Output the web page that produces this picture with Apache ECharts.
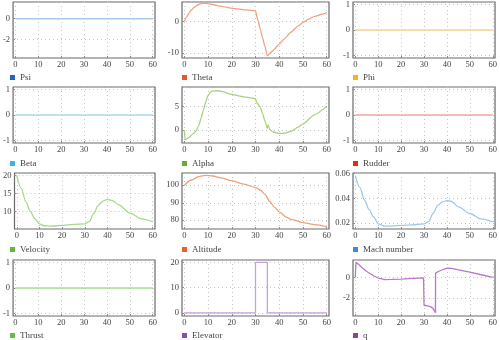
<!DOCTYPE html>
<html><head><meta charset="utf-8">
<script src="https://cdn.jsdelivr.net/npm/echarts@6/dist/echarts.min.js"></script>
<style>html,body{margin:0;padding:0;background:#fff}#c{width:500px;height:340px}</style>
</head><body><div id="c"></div>
<script>
// ---- data ----
const xTicks = [0,10,20,30,40,50,60];

const psiT = [0,60], psiV = [0,0];
const thetaT = [0,1,2,3,4,5,6,7,8,9,10,12,15,20,25,30,31,32,33,34,35,36,37,38,40,42,45,48,50,52,55,58,60];
const thetaV = [0,1.5,2.7,3.7,4.4,5.0,5.4,5.7,5.8,5.8,5.7,5.4,4.9,4.2,3.8,3.4,0.5,-2.4,-5.2,-8.0,-10.9,-10.2,-9.5,-8.7,-7.2,-5.6,-3.4,-1.4,-0.3,0.6,1.6,2.3,2.8];
const phiT = [0,60], phiV = [0,0];
const betaT = [0,60], betaV = [0,0];
const alphaT = [0,0.3,1,2,3,4,5,6,7,8,9,10,11,12,14,16,20,25,30,30.5,31.5,32,33,34,35,35.3,35.6,36,37,38,40,42,45,48,50,55,60];
const alphaV = [0,-2.1,-1.9,-1.6,-1.1,-0.7,-0.2,0.9,2.4,4.2,6.0,7.4,8.1,8.35,8.4,8.2,7.6,7.1,6.7,5.8,5.3,4.8,3.5,1.9,0.4,1.0,0.7,0.1,-0.3,-0.5,-0.75,-0.7,-0.3,0.6,1.3,3.3,5.1];
const rudderT = [0,60], rudderV = [0,0];
const velocityT = [0,2,4,6,8,10,12,15,20,25,30,32,34,36,38,40,42,45,50,55,60];
const velocityV = [20,16.4,12.7,10,8,6.6,6.1,6.0,6.2,6.5,6.6,7.3,9.5,11.8,12.9,13.4,13.1,11.9,9.6,8.0,7.2];
const altitudeT = [0,3,6,9,12,15,20,25,30,32,34,36,38,40,43,45,50,55,60];
const altitudeV = [100,103,104.9,105.7,105.3,104.4,102.6,100.7,98.7,97.3,94.8,90.8,87.5,84.8,81.8,80.5,78.7,77.5,76.2];
const machT = [0,2,4,6,8,10,13,20,25,30,32,34,36,38,40,42,45,50,55,60];
const machV = [0.0585,0.0488,0.0387,0.031,0.0252,0.0195,0.0176,0.0182,0.0187,0.0195,0.0213,0.028,0.0343,0.0372,0.0382,0.0376,0.0332,0.0278,0.0234,0.0209];
const thrustT = [0,60], thrustV = [0,0];
const elevatorT = [0,30,30,35,35,60], elevatorV = [0,0,20,20,0,0];
const qT = [0,0.3,1,2,3,5,8,10,13,16,20,25,29.8,30,30.5,32,33,34,35,35.05,36,37,40,42,45,50,55,60];
const qV = [0,1.48,1.35,1.16,0.95,0.58,0.16,-0.06,-0.22,-0.2,-0.16,-0.1,-0.05,-2.72,-2.75,-2.8,-2.88,-3.05,-3.45,0.42,0.55,0.65,0.9,0.88,0.74,0.52,0.26,0.0];

const names = ['Psi','Theta','Phi','Beta','Alpha','Rudder','Velocity','Altitude','Mach number','Thrust','Elevator','q'];
const yTicks = [[-2,0],[-10,0],[-1,0,1],[-1,0,1],[0,5],[-1,0,1],[10,15,20],[80,90,100],[0.02,0.04,0.06],[-1,0,1],[0,10,20],[-2,0]];
const yRanges = [[-3.75,1.6],[-11.6,6.2],[-1.1,1.1],[-1.1,1.1],[-2.8,9.2],[-1.1,1.1],[5.2,20.7],[75,107],[0.0153,0.0605],[-1.1,1.1],[-1.2,20.9],[-3.77,1.7]];
const seriesT = [psiT,thetaT,phiT,betaT,alphaT,rudderT,velocityT,altitudeT,machT,thrustT,elevatorT,qT];
const seriesV = [psiV,thetaV,phiV,betaV,alphaV,rudderV,velocityV,altitudeV,machV,thrustV,elevatorV,qV];

// ---- styles ----
const keyColors = ['#2266bb','#e4572e','#f5b324','#3cb4e6','#6aaa3a','#e8281e','#6ab43a','#e8602a','#3a8ed8','#60c040','#8a4ab8','#9a3aa8'];
const lineColors = ['#a5c8ec','#f2a283','#f5d590','#a8dcf2','#a8d080','#f5a8a0','#a8d88a','#f0a07a','#a0c8ee','#a8e08a','#c4a0dc','#b878c8'];
const smoothness = [0,0.2,0,0,0.2,0,0.3,0.3,0.3,0,0,0];
const colLeft = [10,182,353], colWidth = [145,147,144];
const rowTop = [2,87,173,260], rowHeight = 56;
const legendTop = [73,159,245,331];
const FONT = 'Liberation Serif';

const grid = [], xAxis = [], yAxis = [], series = [], legend = [];
for (let i = 0; i < 12; i++) {
  const r = Math.floor(i / 3), c = i % 3;
  grid.push({left: colLeft[c], top: rowTop[r], width: colWidth[c], height: rowHeight,
    show: true, borderColor: '#6a6a6a', borderWidth: 1.2, containLabel: false});
  const gridLine = {show: true, lineStyle: {color: '#c4c4c4', type: [1,3], width: 1}};
  xAxis.push({type: 'value', gridIndex: i, min: -1, max: 61,
    axisLine: {show: false, onZero: false},
    axisTick: {show: true, inside: true, length: 2, customValues: xTicks, lineStyle: {color: '#8a8a8a'}},
    axisLabel: {customValues: xTicks, fontFamily: FONT, fontSize: 8.5, color: '#444', margin: 2},
    splitLine: gridLine});
  yAxis.push({type: 'value', gridIndex: i, min: yRanges[i][0], max: yRanges[i][1],
    axisLine: {show: false, onZero: false},
    axisTick: {show: true, inside: true, length: 2, customValues: yTicks[i], lineStyle: {color: '#8a8a8a'}},
    axisLabel: {customValues: yTicks[i], fontFamily: FONT, fontSize: 8.5, color: '#444', margin: 3},
    splitLine: gridLine});
  const data = seriesT[i].map((t, k) => [t, seriesV[i][k]]);
  series.push({type: 'line', name: names[i], xAxisIndex: i, yAxisIndex: i, data,
    showSymbol: false, smooth: smoothness[i], smoothMonotone: 'x',
    itemStyle: {color: keyColors[i]},
    lineStyle: {color: lineColors[i], width: 1.3}});
  legend.push({left: colLeft[c], top: legendTop[r], padding: 0, icon: 'rect', itemWidth: 5, itemHeight: 5, itemGap: 4,
    data: [{name: names[i], itemStyle: {color: keyColors[i]}}],
    textStyle: {fontFamily: FONT, fontSize: 9, color: '#444'}, selectedMode: false});
}

const chart = echarts.init(document.getElementById('c'), null, {renderer: 'canvas'});
chart.setOption({animation: false, backgroundColor: '#fff', grid, xAxis, yAxis, series, legend});
</script>
</body></html>
